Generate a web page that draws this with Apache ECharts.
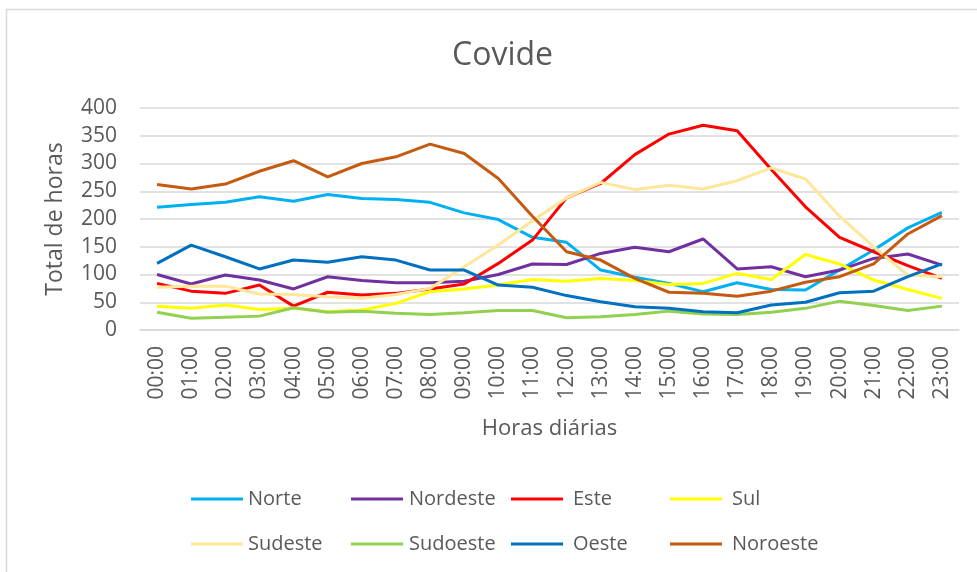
<!DOCTYPE html>
<html>
<head>
<meta charset="utf-8">
<script src="https://cdn.jsdelivr.net/npm/echarts@6/dist/echarts.min.js"></script>
<style>
  html, body { margin: 0; padding: 0; background: #fff; }
  #chart { width: 977px; height: 572px; }
</style>
</head>
<body>
<div id="chart"></div>
<script>
var hours = ['00:00', '01:00', '02:00', '03:00', '04:00', '05:00', '06:00', '07:00',
  '08:00', '09:00', '10:00', '11:00', '12:00', '13:00', '14:00', '15:00',
  '16:00', '17:00', '18:00', '19:00', '20:00', '21:00', '22:00', '23:00'];

var norte = [221, 226, 230, 240, 232, 244, 237, 235, 230, 211, 199, 167, 158, 108, 95, 84, 69, 85, 73, 72, 108, 144, 184, 212];
var nordeste = [100, 83, 99, 90, 74, 96, 89, 85, 85, 88, 100, 119, 118, 138, 149, 141, 164, 110, 114, 96, 108, 129, 137, 117];
var este = [84, 70, 66, 81, 43, 68, 63, 66, 74, 83, 120, 162, 238, 264, 316, 353, 369, 359, 289, 222, 167, 141, 116, 93];
var sul = [43, 39, 45, 37, 39, 33, 36, 48, 69, 74, 81, 91, 88, 93, 89, 82, 84, 102, 91, 136, 119, 90, 73, 57];
var sudeste = [77, 79, 79, 65, 64, 60, 57, 64, 75, 114, 153, 197, 238, 266, 253, 261, 254, 269, 292, 272, 205, 150, 99, 96];
var sudoeste = [32, 21, 23, 25, 40, 32, 34, 30, 28, 31, 35, 35, 22, 24, 28, 34, 29, 28, 32, 39, 52, 44, 35, 43];
var oeste = [120, 153, 132, 110, 126, 122, 132, 126, 108, 108, 81, 77, 62, 51, 42, 39, 33, 31, 45, 50, 67, 70, 96, 119];
var noroeste = [262, 254, 263, 286, 305, 276, 300, 312, 335, 318, 273, 205, 141, 126, 93, 68, 66, 61, 70, 86, 96, 119, 173, 206];

var yTicks = [0, 50, 100, 150, 200, 250, 300, 350, 400];

var names = ['Norte', 'Nordeste', 'Este', 'Sul', 'Sudeste', 'Sudoeste', 'Oeste', 'Noroeste'];
var values = [norte, nordeste, este, sul, sudeste, sudoeste, oeste, noroeste];
var colors = ['#00B0F0', '#7030A0', '#FF0000', '#FFFF00', '#FFE699', '#92D050', '#0070C0', '#C55A11'];

var txt = '#595959';
var font = 'Open Sans';

var chart = echarts.init(document.getElementById('chart'));

// one legend per column, two rows each
function legendCol(left, items, pad) {
  return {
    orient: 'vertical',
    left: left,
    top: 484,
    data: items,
    icon: 'rect',
    itemWidth: 52,
    itemHeight: 3,
    itemGap: 25,
    textStyle: { color: txt, fontFamily: font, fontSize: 20, lineHeight: 20, padding: [0, 0, 0, pad] }
  };
}

chart.setOption({
  animation: false,
  graphic: [{
    type: 'rect',
    shape: { x: 6.5, y: 9.5, width: 1000, height: 600 },
    style: { fill: 'none', stroke: '#d9d9d9', lineWidth: 1.5 }
  }],
  title: {
    text: 'Covide',
    left: 447,
    top: 35,
    textStyle: { color: txt, fontFamily: font, fontSize: 32, fontWeight: 'normal' }
  },
  legend: [
    legendCol(186, ['Norte', 'Sudeste'], 0),
    legendCol(346, ['Nordeste', 'Sudoeste'], 1),
    legendCol(506, ['Este', 'Oeste'], 5),
    legendCol(665, ['Sul', 'Noroeste'], 5)
  ],
  grid: { left: 140, right: 18, top: 108, bottom: 242 },
  xAxis: {
    type: 'category',
    data: hours,
    boundaryGap: true,
    name: 'Horas diárias',
    nameLocation: 'middle',
    nameGap: 88,
    nameTextStyle: { color: txt, fontFamily: font, fontSize: 22 },
    axisLine: { lineStyle: { color: '#d9d9d9', width: 1.5 } },
    axisTick: { show: false },
    axisLabel: { rotate: 90, margin: 16, color: txt, fontFamily: font, fontSize: 21, interval: 0 }
  },
  yAxis: {
    type: 'value',
    min: yTicks[0],
    max: yTicks[yTicks.length - 1],
    interval: 50,
    name: 'Total de horas',
    nameLocation: 'middle',
    nameGap: 73,
    nameTextStyle: { color: txt, fontFamily: font, fontSize: 23 },
    axisLine: { show: false },
    axisTick: { show: false },
    axisLabel: { margin: 23, color: txt, fontFamily: font, fontSize: 21 },
    splitLine: { lineStyle: { color: '#d9d9d9', width: 1.5 } }
  },
  series: names.map(function (n, i) {
    return {
      name: n,
      type: 'line',
      data: values[i],
      symbol: 'none',
      color: colors[i],
      lineStyle: { width: 3, color: colors[i] }
    };
  })
});
</script>
</body>
</html>
